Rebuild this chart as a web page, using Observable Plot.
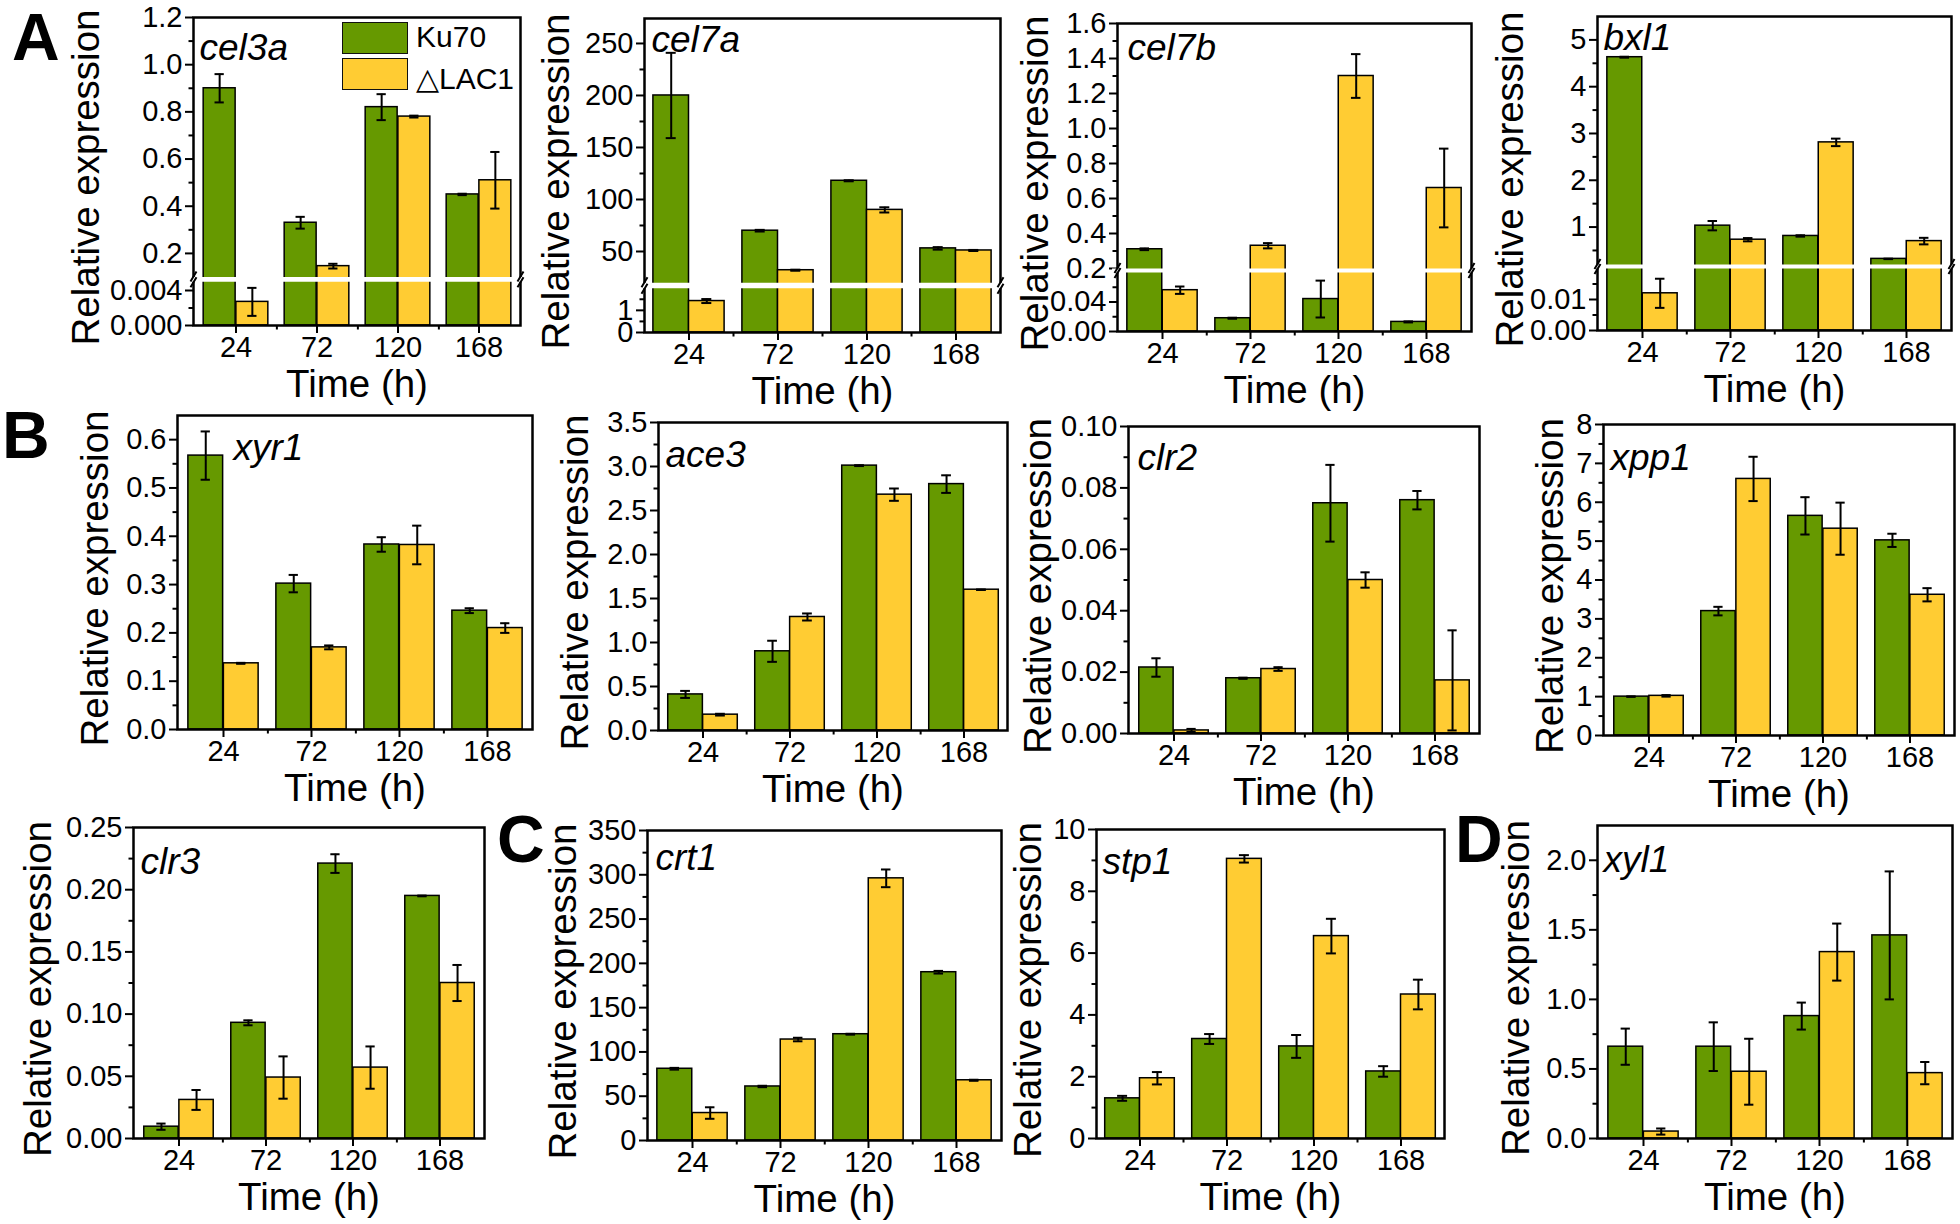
<!DOCTYPE html>
<html><head><meta charset="utf-8">
<script src="https://cdn.jsdelivr.net/npm/d3@7"></script>
<script src="https://cdn.jsdelivr.net/npm/@observablehq/plot@0.6"></script>
<style>
body{margin:0;background:#fff;}
#chart{position:relative;width:1960px;height:1224px;overflow:hidden;background:#fff;font-family:"Liberation Sans",Arial,sans-serif;color:#000;}
.plabel{position:absolute;font-weight:bold;font-size:66px;line-height:66px;}
.sw{position:absolute;width:64px;height:30px;border:1.5px solid #111;}
.lt{position:absolute;font-size:30px;line-height:30px;white-space:nowrap;}
</style>
</head><body><div id="chart"></div>
<script>
// ---------- data ----------
const times = ["24", "72", "120", "168"];
const seriesNames = ["Ku70", "\u25B3LAC1"];
const panelLetters = ["A", "B", "C", "D"];

const cel3aKu70 = [0.90, 0.33, 0.82, 0.45], cel3aKu70Sd = [0.06, 0.025, 0.055, 0.003];
const cel3aLac1 = [0.0027, 0.146, 0.78, 0.51], cel3aLac1Sd = [0.0016, 0.01, 0.004, 0.12];
const cel7aKu70 = [200, 70, 118, 53], cel7aKu70Sd = [41, 0.8, 0.5, 1.2];
const cel7aLac1 = [1.42, 32, 90, 51], cel7aLac1Sd = [0.09, 0.5, 2.5, 0.5];
const cel7bKu70 = [0.31, 0.018, 0.044, 0.013], cel7bKu70Sd = [0.005, 0.0007, 0.025, 0.0007];
const cel7bLac1 = [0.056, 0.33, 1.30, 0.66], cel7bLac1Sd = [0.005, 0.015, 0.125, 0.225];
const bxl1Ku70 = [4.63, 1.03, 0.81, 0.32], bxl1Ku70Sd = [0.01, 0.1, 0.015, 0.005];
const bxl1Lac1 = [0.012, 0.73, 2.81, 0.70], bxl1Lac1Sd = [0.0047, 0.035, 0.08, 0.07];
const xyr1Ku70 = [0.567, 0.302, 0.383, 0.246], xyr1Ku70Sd = [0.05, 0.018, 0.015, 0.005];
const xyr1Lac1 = [0.137, 0.170, 0.382, 0.21], xyr1Lac1Sd = [0.001, 0.004, 0.04, 0.01];
const ace3Ku70 = [0.41, 0.90, 3.01, 2.80], ace3Ku70Sd = [0.04, 0.12, 0.005, 0.10];
const ace3Lac1 = [0.18, 1.29, 2.68, 1.60], ace3Lac1Sd = [0.01, 0.04, 0.07, 0.003];
const clr2Ku70 = [0.0215, 0.018, 0.075, 0.076], clr2Ku70Sd = [0.003, 0.0002, 0.0125, 0.003];
const clr2Lac1 = [0.001, 0.021, 0.050, 0.0173], clr2Lac1Sd = [0.0005, 0.0006, 0.0025, 0.0163];
const xpp1Ku70 = [1.0, 3.2, 5.65, 5.02], xpp1Ku70Sd = [0.005, 0.11, 0.48, 0.17];
const xpp1Lac1 = [1.02, 6.6, 5.32, 3.62], xpp1Lac1Sd = [0.02, 0.57, 0.67, 0.17];
const clr3Ku70 = [0.0095, 0.093, 0.221, 0.195], clr3Ku70Sd = [0.0025, 0.002, 0.0075, 0.0003];
const clr3Lac1 = [0.031, 0.049, 0.057, 0.125], clr3Lac1Sd = [0.008, 0.017, 0.017, 0.0145];
const crt1Ku70 = [81, 61, 120, 190], crt1Ku70Sd = [1, 0.8, 0.5, 1.5];
const crt1Lac1 = [31, 114, 296, 68], crt1Lac1Sd = [6.5, 2, 10, 0.6];
const stp1Ku70 = [1.30, 3.22, 2.98, 2.17], stp1Ku70Sd = [0.08, 0.16, 0.37, 0.17];
const stp1Lac1 = [1.95, 9.05, 6.55, 4.66], stp1Lac1Sd = [0.2, 0.12, 0.56, 0.48];
const xyl1Ku70 = [0.66, 0.66, 0.88, 1.46], xyl1Ku70Sd = [0.13, 0.175, 0.097, 0.46];
const xyl1Lac1 = [0.05, 0.48, 1.34, 0.47], xyl1Lac1Sd = [0.022, 0.237, 0.205, 0.08];

// axis domains (broken axes: [0, break low, break high, top])
const cel3aAxis = [0, 0.005, 0.1, 1.2];
const cel7aAxis = [0, 2, 20, 274];
const cel7bAxis = [0, 0.08, 0.2, 1.6];
const bxl1Axis = [0, 0.02, 0.2, 5.5];
const xyr1Axis = [0, 0.65], ace3Axis = [0, 3.5], clr2Axis = [0, 0.10], xpp1Axis = [0, 8];
const clr3Axis = [0, 0.25], crt1Axis = [0, 350], stp1Axis = [0, 10], xyl1Axis = [0, 2.25];

// tick values and labels
const cel3aTicks = [0, 0.004, 0.2, 0.4, 0.6, 0.8, 1.0, 1.2];
const cel3aLabels = ["0.000", "0.004", "0.2", "0.4", "0.6", "0.8", "1.0", "1.2"];
const cel3aMinor = [0.002, 0.3, 0.5, 0.7, 0.9, 1.1];
const cel7aTicks = [0, 1, 50, 100, 150, 200, 250];
const cel7aLabels = ["0", "1", "50", "100", "150", "200", "250"];
const cel7aMinor = [0.5, 1.5, 75, 125, 175, 225];
const cel7bTicks = [0, 0.04, 0.2, 0.4, 0.6, 0.8, 1.0, 1.2, 1.4, 1.6];
const cel7bLabels = ["0.00", "0.04", "0.2", "0.4", "0.6", "0.8", "1.0", "1.2", "1.4", "1.6"];
const cel7bMinor = [0.02, 0.06, 0.3, 0.5, 0.7, 0.9, 1.1, 1.3, 1.5];
const bxl1Ticks = [0, 0.01, 1, 2, 3, 4, 5];
const bxl1Labels = ["0.00", "0.01", "1", "2", "3", "4", "5"];
const bxl1Minor = [0.005, 0.015, 0.5, 1.5, 2.5, 3.5, 4.5];
const xyr1Ticks = [0, 0.1, 0.2, 0.3, 0.4, 0.5, 0.6];
const xyr1Labels = ["0.0", "0.1", "0.2", "0.3", "0.4", "0.5", "0.6"];
const xyr1Minor = [0.05, 0.15, 0.25, 0.35, 0.45, 0.55];
const ace3Ticks = [0, 0.5, 1.0, 1.5, 2.0, 2.5, 3.0, 3.5];
const ace3Labels = ["0.0", "0.5", "1.0", "1.5", "2.0", "2.5", "3.0", "3.5"];
const ace3Minor = [0.25, 0.75, 1.25, 1.75, 2.25, 2.75, 3.25];
const clr2Ticks = [0, 0.02, 0.04, 0.06, 0.08, 0.10];
const clr2Labels = ["0.00", "0.02", "0.04", "0.06", "0.08", "0.10"];
const clr2Minor = [0.01, 0.03, 0.05, 0.07, 0.09];
const xpp1Ticks = [0, 1, 2, 3, 4, 5, 6, 7, 8];
const xpp1Labels = ["0", "1", "2", "3", "4", "5", "6", "7", "8"];
const xpp1Minor = [0.5, 1.5, 2.5, 3.5, 4.5, 5.5, 6.5, 7.5];
const clr3Ticks = [0, 0.05, 0.10, 0.15, 0.20, 0.25];
const clr3Labels = ["0.00", "0.05", "0.10", "0.15", "0.20", "0.25"];
const clr3Minor = [0.025, 0.075, 0.125, 0.175, 0.225];
const crt1Ticks = [0, 50, 100, 150, 200, 250, 300, 350];
const crt1Labels = ["0", "50", "100", "150", "200", "250", "300", "350"];
const crt1Minor = [25, 75, 125, 175, 225, 275, 325];
const stp1Ticks = [0, 2, 4, 6, 8, 10];
const stp1Labels = ["0", "2", "4", "6", "8", "10"];
const stp1Minor = [1, 3, 5, 7, 9];
const xyl1Ticks = [0, 0.5, 1.0, 1.5, 2.0];
const xyl1Labels = ["0.0", "0.5", "1.0", "1.5", "2.0"];
const xyl1Minor = [0.25, 0.75, 1.25, 1.75];

// ---------- layout ----------
const GREEN = "#669900", YELLOW = "#ffcc33";
const panels = [
  {gene: "cel3a", ku: cel3aKu70, kuSd: cel3aKu70Sd, lac: cel3aLac1, lacSd: cel3aLac1Sd, domain: cel3aAxis, ticks: cel3aTicks, labels: cel3aLabels, minor: cel3aMinor,
   frame: [193, 17, 520, 325], brkPx: [281.25, 276.5], yl: 95, gx: 6, gy: 16},
  {gene: "cel7a", ku: cel7aKu70, kuSd: cel7aKu70Sd, lac: cel7aLac1, lacSd: cel7aLac1Sd, domain: cel7aAxis, ticks: cel7aTicks, labels: cel7aLabels, minor: cel7aMinor,
   frame: [644, 18, 1000, 332], brkPx: [287.7, 282.2], yl: 76, gx: 7, gy: 7},
  {gene: "cel7b", ku: cel7bKu70, kuSd: cel7bKu70Sd, lac: cel7bLac1, lacSd: cel7bLac1Sd, domain: cel7bAxis, ticks: cel7bTicks, labels: cel7bLabels, minor: cel7bMinor,
   frame: [1117, 23, 1471, 331], brkPx: [272, 268], yl: 70, gx: 10, gy: 10},
  {gene: "bxl1", ku: bxl1Ku70, kuSd: bxl1Ku70Sd, lac: bxl1Lac1, lacSd: bxl1Lac1Sd, domain: bxl1Axis, ticks: bxl1Ticks, labels: bxl1Labels, minor: bxl1Minor,
   frame: [1597, 16, 1951, 330], brkPx: [268, 264], yl: 75, gx: 6, gy: 7},
  {gene: "xyr1", ku: xyr1Ku70, kuSd: xyr1Ku70Sd, lac: xyr1Lac1, lacSd: xyr1Lac1Sd, domain: xyr1Axis, ticks: xyr1Ticks, labels: xyr1Labels, minor: xyr1Minor,
   frame: [177, 415, 532, 729], yl: 70, gx: 56, gy: 18},
  {gene: "ace3", ku: ace3Ku70, kuSd: ace3Ku70Sd, lac: ace3Lac1, lacSd: ace3Lac1Sd, domain: ace3Axis, ticks: ace3Ticks, labels: ace3Labels, minor: ace3Minor,
   frame: [658, 422, 1007, 730], yl: 71, gx: 7, gy: 18},
  {gene: "clr2", ku: clr2Ku70, kuSd: clr2Ku70Sd, lac: clr2Lac1, lacSd: clr2Lac1Sd, domain: clr2Axis, ticks: clr2Ticks, labels: clr2Labels, minor: clr2Minor,
   frame: [1128, 426, 1479, 733], yl: 78, gx: 9, gy: 17},
  {gene: "xpp1", ku: xpp1Ku70, kuSd: xpp1Ku70Sd, lac: xpp1Lac1, lacSd: xpp1Lac1Sd, domain: xpp1Axis, ticks: xpp1Ticks, labels: xpp1Labels, minor: xpp1Minor,
   frame: [1603, 424, 1954, 735], yl: 41, gx: 7, gy: 19},
  {gene: "clr3", ku: clr3Ku70, kuSd: clr3Ku70Sd, lac: clr3Lac1, lacSd: clr3Lac1Sd, domain: clr3Axis, ticks: clr3Ticks, labels: clr3Labels, minor: clr3Minor,
   frame: [133, 827, 484, 1138], yl: 83, gx: 7, gy: 20},
  {gene: "crt1", ku: crt1Ku70, kuSd: crt1Ku70Sd, lac: crt1Lac1, lacSd: crt1Lac1Sd, domain: crt1Axis, ticks: crt1Ticks, labels: crt1Labels, minor: crt1Minor,
   frame: [647, 830, 1001, 1140], yl: 72, gx: 8, gy: 13},
  {gene: "stp1", ku: stp1Ku70, kuSd: stp1Ku70Sd, lac: stp1Lac1, lacSd: stp1Lac1Sd, domain: stp1Axis, ticks: stp1Ticks, labels: stp1Labels, minor: stp1Minor,
   frame: [1096, 829, 1444, 1138], yl: 56, gx: 6, gy: 18},
  {gene: "xyl1", ku: xyl1Ku70, kuSd: xyl1Ku70Sd, lac: xyl1Lac1, lacSd: xyl1Lac1Sd, domain: xyl1Axis, ticks: xyl1Ticks, labels: xyl1Labels, minor: xyl1Minor,
   frame: [1597, 825, 1952, 1138], yl: 69, gx: 6, gy: 20}
];

const chart = document.getElementById("chart");
const ML = 150, MT = 14, MR = 14, MB = 100;
const INK = "#000";

function slash(g) {
  const h = g / 2 + 0.5;
  return {draw(ctx) {
    ctx.moveTo(-3, -h + 5); ctx.lineTo(3, -h - 5);
    ctx.moveTo(-3, h + 5); ctx.lineTo(3, h - 5);
  }};
}

function render(p) {
  const [l, t, r, b] = p.frame;
  const W = r - l + ML + MR, H = b - t + MT + MB;
  const top = t - MT;
  const bw = (r - l) / 4;
  const barW = bw * 0.4, gap = bw * 0.1, capW = 10;
  const rows = (vals, sds, s) => times.map((time, i) => ({time, series: s, v: vals[i], sd: sds[i]}));
  const kuRows = rows(p.ku, p.kuSd, seriesNames[0]);
  const lacRows = rows(p.lac, p.lacSd, seriesNames[1]);
  const lab = new Map(p.ticks.map((v, i) => [v, p.labels[i]]));
  const rangePx = p.brkPx ? [b, p.brkPx[0], p.brkPx[1], t] : [b, t];

  const marks = [
    Plot.barY(kuRows, {x: "time", y1: 0, y2: "v", fill: GREEN, stroke: INK, strokeWidth: 1.5, insetLeft: gap, insetRight: gap + barW}),
    Plot.barY(lacRows, {x: "time", y1: 0, y2: "v", fill: YELLOW, stroke: INK, strokeWidth: 1.5, insetLeft: gap + barW, insetRight: gap})
  ];
  for (const [data, dx] of [[kuRows, -barW / 2], [lacRows, barW / 2]]) {
    const cx = bw / 2 + dx;
    marks.push(Plot.ruleX(data, {x: "time", y1: d => d.v - d.sd, y2: d => d.v + d.sd, dx, stroke: INK, strokeWidth: 2}));
    for (const sign of [-1, 1]) {
      marks.push(Plot.tickY(data, {x: "time", y: d => d.v + sign * d.sd, insetLeft: cx - capW / 2, insetRight: bw - cx - capW / 2, stroke: INK, strokeWidth: 2}));
    }
  }
  marks.push(Plot.frame({stroke: INK, strokeWidth: 2.5}));
  marks.push(Plot.axisY(p.ticks, {tickSize: 8, tickPadding: 3, strokeWidth: 2, fontSize: 29, tickFormat: d => lab.get(d), label: null}));
  marks.push(Plot.axisY(p.minor, {tickSize: 4.5, strokeWidth: 2, tickFormat: () => "", label: null}));
  marks.push(Plot.axisX(times, {tickSize: 8, tickPadding: 3, strokeWidth: 2, fontSize: 29, label: null}));
  marks.push(Plot.axisX(times.slice(0, 3), {tickSize: 4.5, strokeWidth: 2, dx: bw / 2, tickFormat: () => "", label: null}));
  if (p.brkPx) {
    const mid = (p.domain[1] + p.domain[2]) / 2;
    const g = p.brkPx[0] - p.brkPx[1];
    marks.push(Plot.ruleY([mid], {y: d => d, stroke: "white", strokeWidth: g, insetLeft: -5, insetRight: -5}));
    for (const fa of ["left", "right"]) {
      marks.push(Plot.dot([mid], {y: d => d, frameAnchor: fa, symbol: slash(g), stroke: INK, strokeWidth: 2, fill: "none"}));
    }
  }
  marks.push(Plot.text([p.gene], {text: d => d, frameAnchor: "top-left", dx: p.gx, dy: p.gy, lineAnchor: "top", textAnchor: "start", fontSize: 37, fontStyle: "italic", fill: INK}));
  marks.push(Plot.text(["Relative expression"], {text: d => d, frameAnchor: "left", dx: -p.yl, dy: 6, rotate: -90, textAnchor: "middle", lineAnchor: "bottom", fontSize: 38.5, fill: INK}));
  marks.push(Plot.text(["Time (h)"], {text: d => d, frameAnchor: "bottom", dy: 71, textAnchor: "middle", lineAnchor: "bottom", fontSize: 38.5, fill: INK}));

  const svg = Plot.plot({
    width: W, height: H,
    marginLeft: ML, marginTop: MT, marginRight: MR, marginBottom: MB,
    x: {type: "band", domain: times, padding: 0, label: null},
    y: {type: "linear", domain: p.domain, range: rangePx.map(v => v - top), label: null},
    style: "background: transparent; overflow: visible; font-family: 'Liberation Sans', Arial, sans-serif; color: #000;",
    marks
  });
  svg.style.position = "absolute";
  svg.style.left = (l - ML) + "px";
  svg.style.top = top + "px";
  svg.style.maxWidth = "none";
  chart.appendChild(svg);
}
panels.forEach(render);

// legend (inside first panel)
const legendPos = [[342, 22, 22], [342, 58, 64]];
[GREEN, YELLOW].forEach((c, i) => {
  const sw = document.createElement("div");
  sw.className = "sw";
  sw.style.left = legendPos[i][0] + "px";
  sw.style.top = legendPos[i][1] + "px";
  sw.style.background = c;
  chart.appendChild(sw);
  const tx = document.createElement("div");
  tx.className = "lt";
  tx.style.left = "416px";
  tx.style.top = legendPos[i][2] + "px";
  tx.textContent = seriesNames[i];
  chart.appendChild(tx);
});

// panel letters
const letterPos = [[12, 4], [2, 402], [497, 806], [1455, 806]];
panelLetters.forEach((L, i) => {
  const d = document.createElement("div");
  d.className = "plabel";
  d.style.left = letterPos[i][0] + "px";
  d.style.top = letterPos[i][1] + "px";
  d.textContent = L;
  chart.appendChild(d);
});
</script>
</body></html>
